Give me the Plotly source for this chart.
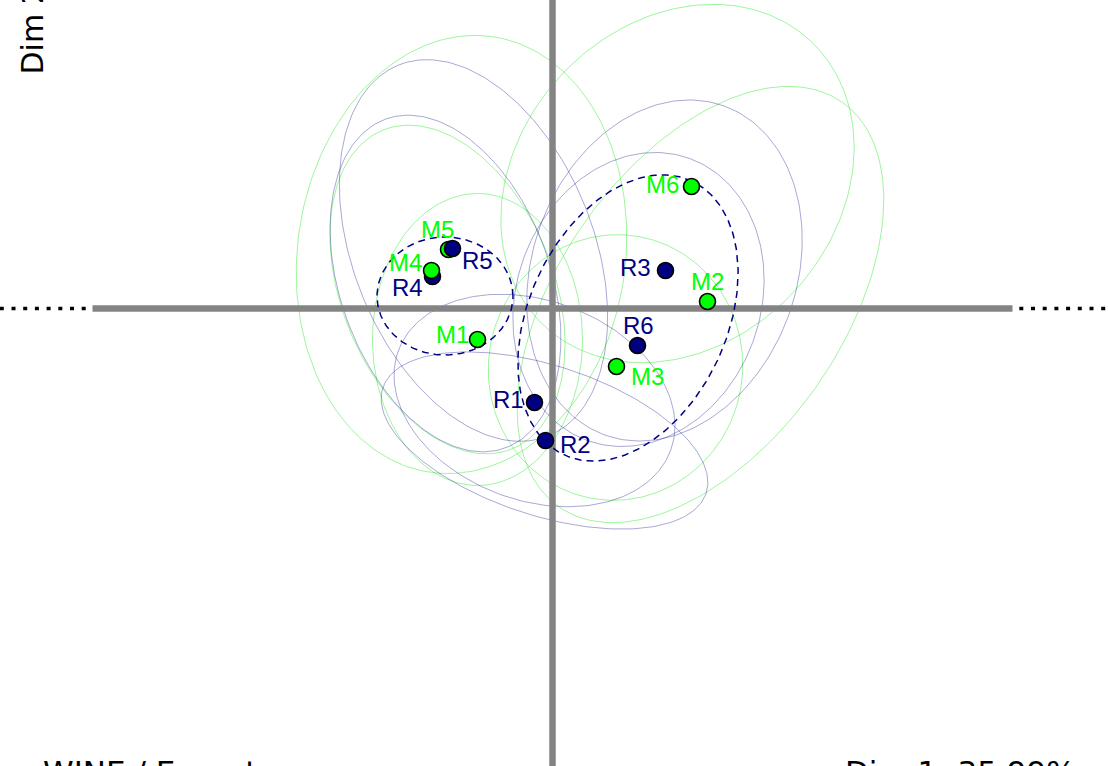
import numpy as np
import plotly.graph_objects as go

# ---------------- data ----------------
products = ["M1", "M2", "M3", "M4", "M5", "M6", "R1", "R2", "R3", "R4", "R5", "R6"]
dim1 = [-0.75, 1.55, 0.64, -1.21, -1.04, 1.39, -0.18, -0.07, 1.13, -1.20, -1.00, 0.85]
dim2 = [-0.31, 0.07, -0.58, 0.38, 0.59, 1.22, -0.94, -1.32, 0.38, 0.32, 0.60, -0.37]
group = ["M", "M", "M", "M", "M", "M", "R", "R", "R", "R", "R", "R"]

# confidence ellipse of each product (centre, semi-axes, rotation in degrees)
ell_cx = [-0.75, 1.48, 0.63, -0.91, -1.05, 1.25, -0.18, -0.08, 1.12, -0.79, -1.07, 0.86]
ell_cy = [-0.31, 0.04, -0.59, 0.54, 0.19, 1.25, -0.92, -1.32, 0.38, 0.58, 0.25, 0.09]
ell_a = [1.46, 2.47, 1.33, 2.20, 1.72, 1.95, 1.45, 1.70, 1.75, 2.00, 1.75, 1.50]
ell_b = [1.05, 1.42, 1.27, 1.64, 1.06, 1.59, 1.00, 0.75, 1.32, 1.20, 1.05, 1.22]
ell_angle = [90, 55, 80, 82, 112, 47, -20, -18, 70, 112, 110, 70]

# ellipses of the two groups (dashed)
grp_cx = [-1.075, 0.755]
grp_cy = [0.125, -0.095]
grp_a = [0.68, 1.51]
grp_b = [0.59, 0.99]
grp_angle = [0, 65]

dim1_title = "Dim 1: 35.99%"
dim2_title = "Dim 2"
plot_title = "WINE / Expert"

# ---------------- styles ----------------
GREEN = "#00FF00"
NAVY = "#000080"
col_pt = {"M": GREEN, "R": NAVY}
col_ell = {"M": "rgba(0,230,0,0.38)", "R": "rgba(0,0,128,0.34)"}
# label placement (pixels) for each product
label_shift = {
    "M1": (-25, 5), "M2": (0, 20), "M3": (31, -10), "M4": (-26, 8),
    "M5": (-11, 20), "M6": (-29, 2), "R1": (-26, 3), "R2": (30, -4),
    "R3": (-30, 3), "R4": (-25, -11), "R5": (25, -12), "R6": (1, 20),
}
draw_order = ["R1", "R2", "R3", "R4", "R6", "M1", "M2", "M3", "M4", "M5", "M6", "R5"]


def ellipse(cx, cy, a, b, ang, n=240):
    t = np.linspace(0, 2 * np.pi, n)
    th = np.deg2rad(ang)
    x = cx + a * np.cos(t) * np.cos(th) - b * np.sin(t) * np.sin(th)
    y = cy + a * np.cos(t) * np.sin(th) + b * np.sin(t) * np.cos(th)
    return x, y


fig = go.Figure()

# thin product ellipses
for i, p in enumerate(products):
    x, y = ellipse(ell_cx[i], ell_cy[i], ell_a[i], ell_b[i], ell_angle[i])
    fig.add_trace(go.Scatter(x=x, y=y, mode="lines",
                             line=dict(color=col_ell[group[i]], width=1),
                             hoverinfo="skip", showlegend=False))

# axes
fig.add_trace(go.Scatter(x=[-4.6, 4.6], y=[0, 0], mode="lines",
                         line=dict(color="#848484", width=6.5), hoverinfo="skip", showlegend=False))
fig.add_trace(go.Scatter(x=[0, 0], y=[-6, 5], mode="lines",
                         line=dict(color="#848484", width=6.5), hoverinfo="skip", showlegend=False))
for xs in ([-4.668, -7], [4.668, 7]):
    fig.add_trace(go.Scatter(x=xs, y=[0, 0], mode="lines",
                             line=dict(color="black", width=3.5, dash="4px,7.7px"),
                             hoverinfo="skip", showlegend=False))

# group ellipses
for i in range(len(grp_cx)):
    x, y = ellipse(grp_cx[i], grp_cy[i], grp_a[i], grp_b[i], grp_angle[i])
    fig.add_trace(go.Scatter(x=x, y=y, mode="lines",
                             line=dict(color=NAVY, width=1.5, dash="7px,5px"),
                             hoverinfo="skip", showlegend=False))

# points
idx = [products.index(p) for p in draw_order]
fig.add_trace(go.Scatter(
    x=[dim1[i] for i in idx], y=[dim2[i] for i in idx], mode="markers",
    marker=dict(size=16, color=[col_pt[group[i]] for i in idx],
                line=dict(color="black", width=1.6)),
    hoverinfo="skip", showlegend=False))

annotations = []
for i, p in enumerate(products):
    dx, dy = label_shift[p]
    annotations.append(dict(
        x=dim1[i], y=dim2[i], xref="x", yref="y", text=p, showarrow=False,
        xshift=dx, yshift=dy, xanchor="center", yanchor="middle",
        font=dict(family="Liberation Sans, Arial", size=24, color=col_pt[group[i]])))

annotations.append(dict(x=41 / 1108, y=1 - 751.5 / 766, xref="paper", yref="paper",
                        text=plot_title, showarrow=False, xanchor="left", yanchor="top",
                        font=dict(family="DejaVu Sans", size=31, color="black")))
annotations.append(dict(x=843 / 1108, y=1 - 751.5 / 766, xref="paper", yref="paper",
                        text=dim1_title, showarrow=False, xanchor="left", yanchor="top",
                        font=dict(family="DejaVu Sans", size=31, color="black")))
annotations.append(dict(x=32 / 1108, y=1 - 77 / 766, xref="paper", yref="paper",
                        text=dim2_title, showarrow=False, xanchor="center", yanchor="bottom",
                        textangle=-90,
                        font=dict(family="DejaVu Sans", size=30, color="black")))

fig.update_layout(
    width=1108, height=766,
    margin=dict(l=0, r=0, t=0, b=0),
    paper_bgcolor="white", plot_bgcolor="white",
    xaxis=dict(range=[-5.525, 5.555], visible=False, fixedrange=True),
    yaxis=dict(range=[-4.575, 3.085], visible=False, fixedrange=True),
    annotations=annotations,
    hovermode=False,
)

fig.write_html("out.html", config={"displayModeBar": False},
               post_script="document.body.style.margin='0';document.body.style.overflow='hidden';")
